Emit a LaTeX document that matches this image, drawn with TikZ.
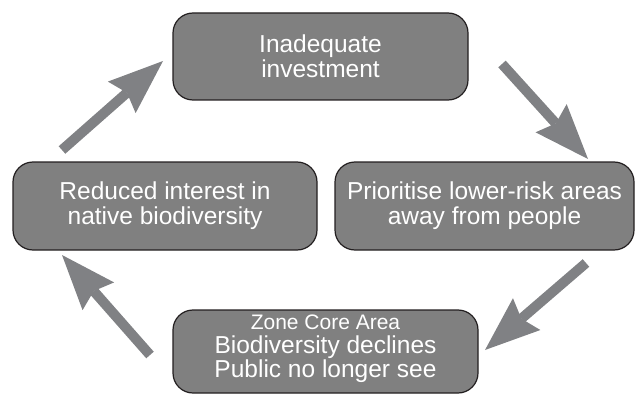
\documentclass[tikz,border=0pt]{standalone}
\usepackage{fontspec}
\setmainfont{Liberation Sans}
\usetikzlibrary{arrows.meta}
\definecolor{boxfill}{HTML}{808080}
\definecolor{boxline}{HTML}{231F20}
\definecolor{arrowcol}{HTML}{808184}
\tikzset{
  cyclebox/.style={draw=boxline, line width=1.2pt, fill=boxfill, rounded corners=20pt,
    text=white, align=center, inner sep=0pt,
    font=\fontsize{24.5}{25}\selectfont},
  fatarrow/.style={draw=arrowcol, line width=10pt,
    -{Stealth[length=55pt, width=42pt, inset=7pt, line width=0pt]}}
}
\begin{document}
\begin{tikzpicture}[x=1pt, y=-1pt]
\useasboundingbox (0,0) rectangle (635,396);
\node[cyclebox, minimum width=295pt, minimum height=87pt] (top) at (320.5,56.5) {Inadequate\\investment};
\node[cyclebox, minimum width=304pt, minimum height=88pt] (left) at (165,206) {Reduced interest in\\native biodiversity};
\node[cyclebox, minimum width=299pt, minimum height=88pt] (right) at (484.5,206) {Prioritise lower-risk areas\\away from people};
\node[cyclebox, minimum width=305pt, minimum height=83pt] (bottom) at (325.5,351.5) {};
\node[text=white, align=center, inner sep=0pt, font=\fontsize{24.5}{24}\selectfont] (bottomtext) at ([yshift=3pt]bottom.center)
  {{\fontsize{21}{24}\selectfont Zone Core Area}\\Biodiversity declines\\Public no longer see};
\coordinate (a1s) at (62,150);  \coordinate (a1t) at (163,61);
\coordinate (a2s) at (502,64);  \coordinate (a2t) at (588,159);
\coordinate (a3s) at (586,263); \coordinate (a3t) at (485,350);
\coordinate (a4s) at (150,355); \coordinate (a4t) at (62,255);
\draw[fatarrow] (a1s) -- (a1t);
\draw[fatarrow] (a2s) -- (a2t);
\draw[fatarrow] (a3s) -- (a3t);
\draw[fatarrow] (a4s) -- (a4t);
\end{tikzpicture}
\end{document}
